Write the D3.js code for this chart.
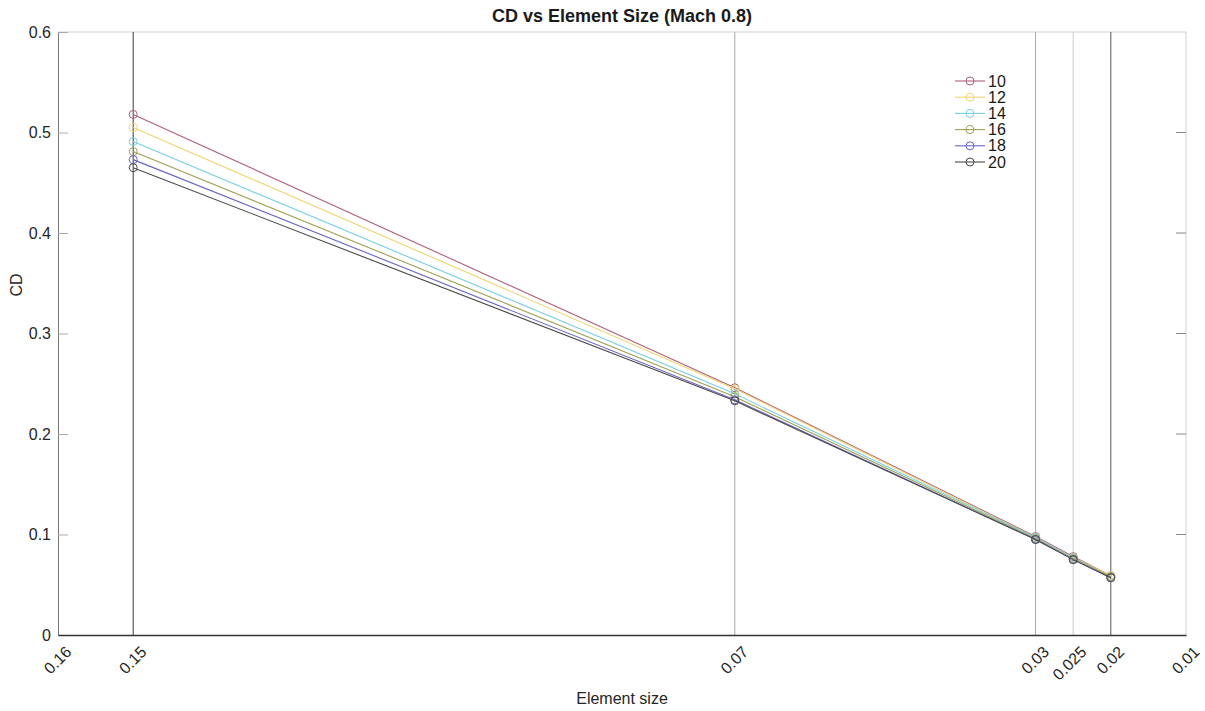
<!DOCTYPE html>
<html><head><meta charset="utf-8">
<script src="https://cdn.jsdelivr.net/npm/d3@7"></script>
<style>body{margin:0;background:#fff;}svg{display:block;font-family:"Liberation Sans",Arial,sans-serif;}</style>
</head><body><svg id="c" width="1205" height="711"></svg>
<script>
const elementSizes = [0.15, 0.07, 0.03, 0.025, 0.02];
const xTicks = [0.16, 0.15, 0.07, 0.03, 0.025, 0.02, 0.01];
const xTickLabels = ["0.16", "0.15", "0.07", "0.03", "0.025", "0.02", "0.01"];
const yTicks = [0, 0.1, 0.2, 0.3, 0.4, 0.5, 0.6];
const seriesNames = ["10", "12", "14", "16", "18", "20"];
const s10 = [0.518, 0.246, 0.098, 0.078, 0.059];
const s12 = [0.505, 0.245, 0.097, 0.077, 0.059];
const s14 = [0.491, 0.240, 0.097, 0.077, 0.058];
const s16 = [0.481, 0.237, 0.096, 0.076, 0.058];
const s18 = [0.473, 0.234, 0.095, 0.075, 0.057];
const s20 = [0.465, 0.233, 0.095, 0.075, 0.057];
const seriesValues = [s10, s12, s14, s16, s18, s20];
const seriesColors = ["#b0607a", "#f0d470", "#78d0e4", "#a0a055", "#6a64c8", "#4a4a4a"];
const vlineColors = ["#3a3a3a", "#a8a8a8", "#a8a8a8", "#cccccc", "#555555"];

const svg = d3.select("#c");
const L = 58, R = 1186, T = 32, B = 635;
const x = d3.scaleLinear().domain([0.16, 0.01]).range([L, R]);
const y = d3.scaleLinear().domain([0, 0.6]).range([B, T]);

svg.append("line").attr("x1", L).attr("x2", R).attr("y1", T).attr("y2", T).attr("stroke", "#d0d0d0");
svg.append("line").attr("x1", R).attr("x2", R).attr("y1", T).attr("y2", B).attr("stroke", "#d0d0d0");

svg.append("g").selectAll("line").data(elementSizes).join("line")
  .attr("x1", d => x(d)).attr("x2", d => x(d)).attr("y1", T).attr("y2", B)
  .attr("stroke", (d, i) => vlineColors[i]).attr("stroke-width", 1);

svg.append("g").selectAll("line").data(yTicks.slice(1, 6)).join("line")
  .attr("x1", R - 10).attr("x2", R).attr("y1", d => y(d)).attr("y2", d => y(d))
  .attr("stroke", "#888");

const yAxis = svg.append("g").attr("transform", `translate(${L},0)`)
  .call(d3.axisLeft(y).tickValues(yTicks).tickFormat(d => d === 0 ? "0" : d3.format(".1f")(d)).tickSizeInner(-10).tickSizeOuter(0).tickPadding(7));
yAxis.select(".domain").attr("stroke", "#777");
yAxis.selectAll(".tick line").attr("stroke", "#aaa");
yAxis.selectAll("text").attr("font-size", 16).attr("fill", "#262626");

const xAxis = svg.append("g").attr("transform", `translate(0,${B})`)
  .call(d3.axisBottom(x).tickValues(xTicks).tickFormat((d, i) => xTickLabels[i]).tickSize(0).tickSizeOuter(0));
xAxis.select(".domain").attr("stroke", "#333").attr("stroke-width", 1.5);
xAxis.selectAll("text").attr("font-size", 16).attr("fill", "#262626")
  .attr("text-anchor", "end").attr("dy", "0.35em")
  .attr("transform", "translate(10,14) rotate(-45)").attr("y", 0).attr("x", 0);

const line = d3.line().x((d, i) => x(elementSizes[i])).y(d => y(d));
seriesValues.forEach((vals, k) => {
  const g = svg.append("g");
  g.append("path").datum(vals).attr("d", line).attr("fill", "none")
    .attr("stroke", seriesColors[k]).attr("stroke-width", 1.1);
  g.selectAll("circle").data(vals).join("circle")
    .attr("cx", (d, i) => x(elementSizes[i])).attr("cy", d => y(d)).attr("r", 4)
    .attr("fill", "none").attr("stroke", seriesColors[k]).attr("stroke-width", 1);
});

const lg = svg.append("g").attr("transform", "translate(955,81)");
seriesNames.forEach((n, k) => {
  const gy = k * 16.2;
  lg.append("line").attr("x1", 0).attr("x2", 30).attr("y1", gy).attr("y2", gy).attr("stroke", seriesColors[k]).attr("stroke-width", 1.1);
  lg.append("circle").attr("cx", 15).attr("cy", gy).attr("r", 4).attr("fill", "none").attr("stroke", seriesColors[k]);
  lg.append("text").attr("x", 33).attr("y", gy).attr("dy", "0.35em").attr("font-size", 16).attr("fill", "#1a1a1a").text(n);
});

svg.append("text").attr("x", (L + R) / 2).attr("y", 22).attr("text-anchor", "middle")
  .attr("font-size", 18).attr("font-weight", "bold").attr("fill", "#1a1a1a").text("CD vs Element Size (Mach 0.8)");
svg.append("text").attr("x", 622).attr("y", 704).attr("text-anchor", "middle")
  .attr("font-size", 16).attr("fill", "#262626").text("Element size");
svg.append("text").attr("transform", "translate(22,285) rotate(-90)").attr("text-anchor", "middle")
  .attr("font-size", 16).attr("fill", "#262626").text("CD");
</script></body></html>
